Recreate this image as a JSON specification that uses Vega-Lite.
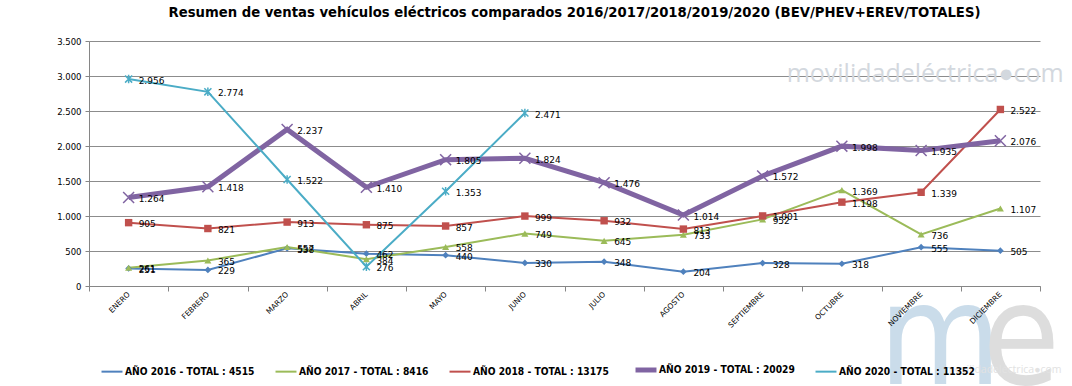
{
  "$schema": "https://vega.github.io/schema/vega-lite/v6.json",
  "autosize": "none",
  "width": 951,
  "height": 245,
  "padding": {"left": 89, "top": 41, "right": 32, "bottom": 100},
  "background": "white",
  "config": {
    "view": {"stroke": null},
    "locale": {"number": {"decimal": ",", "thousands": ".", "grouping": [3], "currency": ["", " €"]}},
    "font": "DejaVu Sans"
  },
  "title": {
    "text": "Resumen de ventas vehículos eléctricos comparados 2016/2017/2018/2019/2020  (BEV/PHEV+EREV/TOTALES)",
    "font": "DejaVu Sans Condensed",
    "fontSize": 14.7,
    "fontWeight": "bold",
    "color": "black",
    "anchor": "middle",
    "dx": 10,
    "offset": 17
  },
  "data": {"values": [
    {"mes": "ENERO", "serie": "AÑO 2016 - TOTAL : 4515", "v": 251},
    {"mes": "FEBRERO", "serie": "AÑO 2016 - TOTAL : 4515", "v": 229},
    {"mes": "MARZO", "serie": "AÑO 2016 - TOTAL : 4515", "v": 538},
    {"mes": "ABRIL", "serie": "AÑO 2016 - TOTAL : 4515", "v": 462},
    {"mes": "MAYO", "serie": "AÑO 2016 - TOTAL : 4515", "v": 440},
    {"mes": "JUNIO", "serie": "AÑO 2016 - TOTAL : 4515", "v": 330},
    {"mes": "JULIO", "serie": "AÑO 2016 - TOTAL : 4515", "v": 348},
    {"mes": "AGOSTO", "serie": "AÑO 2016 - TOTAL : 4515", "v": 204},
    {"mes": "SEPTIEMBRE", "serie": "AÑO 2016 - TOTAL : 4515", "v": 328},
    {"mes": "OCTUBRE", "serie": "AÑO 2016 - TOTAL : 4515", "v": 318},
    {"mes": "NOVIEMBRE", "serie": "AÑO 2016 - TOTAL : 4515", "v": 555},
    {"mes": "DICIEMBRE", "serie": "AÑO 2016 - TOTAL : 4515", "v": 505},
    {"mes": "ENERO", "serie": "AÑO 2017 - TOTAL : 8416", "v": 261},
    {"mes": "FEBRERO", "serie": "AÑO 2017 - TOTAL : 8416", "v": 365},
    {"mes": "MARZO", "serie": "AÑO 2017 - TOTAL : 8416", "v": 557},
    {"mes": "ABRIL", "serie": "AÑO 2017 - TOTAL : 8416", "v": 384},
    {"mes": "MAYO", "serie": "AÑO 2017 - TOTAL : 8416", "v": 558},
    {"mes": "JUNIO", "serie": "AÑO 2017 - TOTAL : 8416", "v": 749},
    {"mes": "JULIO", "serie": "AÑO 2017 - TOTAL : 8416", "v": 645},
    {"mes": "AGOSTO", "serie": "AÑO 2017 - TOTAL : 8416", "v": 733},
    {"mes": "SEPTIEMBRE", "serie": "AÑO 2017 - TOTAL : 8416", "v": 952},
    {"mes": "OCTUBRE", "serie": "AÑO 2017 - TOTAL : 8416", "v": 1369},
    {"mes": "NOVIEMBRE", "serie": "AÑO 2017 - TOTAL : 8416", "v": 736},
    {"mes": "DICIEMBRE", "serie": "AÑO 2017 - TOTAL : 8416", "v": 1107},
    {"mes": "ENERO", "serie": "AÑO 2018 - TOTAL : 13175", "v": 905},
    {"mes": "FEBRERO", "serie": "AÑO 2018 - TOTAL : 13175", "v": 821},
    {"mes": "MARZO", "serie": "AÑO 2018 - TOTAL : 13175", "v": 913},
    {"mes": "ABRIL", "serie": "AÑO 2018 - TOTAL : 13175", "v": 875},
    {"mes": "MAYO", "serie": "AÑO 2018 - TOTAL : 13175", "v": 857},
    {"mes": "JUNIO", "serie": "AÑO 2018 - TOTAL : 13175", "v": 999},
    {"mes": "JULIO", "serie": "AÑO 2018 - TOTAL : 13175", "v": 932},
    {"mes": "AGOSTO", "serie": "AÑO 2018 - TOTAL : 13175", "v": 813},
    {"mes": "SEPTIEMBRE", "serie": "AÑO 2018 - TOTAL : 13175", "v": 1001},
    {"mes": "OCTUBRE", "serie": "AÑO 2018 - TOTAL : 13175", "v": 1198},
    {"mes": "NOVIEMBRE", "serie": "AÑO 2018 - TOTAL : 13175", "v": 1339},
    {"mes": "DICIEMBRE", "serie": "AÑO 2018 - TOTAL : 13175", "v": 2522},
    {"mes": "ENERO", "serie": "AÑO 2019 - TOTAL : 20029", "v": 1264},
    {"mes": "FEBRERO", "serie": "AÑO 2019 - TOTAL : 20029", "v": 1418},
    {"mes": "MARZO", "serie": "AÑO 2019 - TOTAL : 20029", "v": 2237},
    {"mes": "ABRIL", "serie": "AÑO 2019 - TOTAL : 20029", "v": 1410},
    {"mes": "MAYO", "serie": "AÑO 2019 - TOTAL : 20029", "v": 1805},
    {"mes": "JUNIO", "serie": "AÑO 2019 - TOTAL : 20029", "v": 1824},
    {"mes": "JULIO", "serie": "AÑO 2019 - TOTAL : 20029", "v": 1476},
    {"mes": "AGOSTO", "serie": "AÑO 2019 - TOTAL : 20029", "v": 1014},
    {"mes": "SEPTIEMBRE", "serie": "AÑO 2019 - TOTAL : 20029", "v": 1572},
    {"mes": "OCTUBRE", "serie": "AÑO 2019 - TOTAL : 20029", "v": 1998},
    {"mes": "NOVIEMBRE", "serie": "AÑO 2019 - TOTAL : 20029", "v": 1935},
    {"mes": "DICIEMBRE", "serie": "AÑO 2019 - TOTAL : 20029", "v": 2076},
    {"mes": "ENERO", "serie": "AÑO 2020 - TOTAL : 11352", "v": 2956},
    {"mes": "FEBRERO", "serie": "AÑO 2020 - TOTAL : 11352", "v": 2774},
    {"mes": "MARZO", "serie": "AÑO 2020 - TOTAL : 11352", "v": 1522},
    {"mes": "ABRIL", "serie": "AÑO 2020 - TOTAL : 11352", "v": 276},
    {"mes": "MAYO", "serie": "AÑO 2020 - TOTAL : 11352", "v": 1353},
    {"mes": "JUNIO", "serie": "AÑO 2020 - TOTAL : 11352", "v": 2471}
  ]},
  "encoding": {
    "x": {
      "field": "mes", "type": "nominal", "title": null,
      "sort": ["ENERO","FEBRERO","MARZO","ABRIL","MAYO","JUNIO","JULIO","AGOSTO","SEPTIEMBRE","OCTUBRE","NOVIEMBRE","DICIEMBRE"],
      "scale": {"type": "band", "paddingInner": 0, "paddingOuter": 0},
      "axis": {
        "labelAngle": -45, "labelAlign": "right", "labelBaseline": "middle",
        "labelFontSize": 7.5, "labelColor": "black", "labelPadding": 2,
        "tickBand": "extent", "tickSize": 5, "tickColor": "#868686",
        "domainColor": "#868686", "grid": false, "zindex": 1
      }
    },
    "y": {
      "field": "v", "type": "quantitative", "title": null,
      "scale": {"domain": [0, 3500], "nice": false},
      "axis": {
        "values": [0,500,1000,1500,2000,2500,3000,3500],
        "format": ",d", "labelFontSize": 8.5, "labelColor": "black",
        "tickSize": 4, "tickColor": "#868686", "domainColor": "#868686",
        "gridColor": "#8c8c8c", "gridWidth": 1, "labelPadding": 4
      }
    }
  },
  "layer": [
    {
      "data": {"values": [{"mes": "NOVIEMBRE", "v": -1400, "t": "m"}]},
      "mark": {"type": "text", "font": "DejaVu Sans Condensed", "fontSize": 140, "color": "#cadcea", "align": "center", "baseline": "alphabetic", "dx": 19, "clip": false},
      "encoding": {"text": {"field": "t", "type": "nominal"}}
    },
    {
      "data": {"values": [{"mes": "DICIEMBRE", "v": -1400, "t": "e"}]},
      "mark": {"type": "text", "font": "DejaVu Sans Condensed", "fontSize": 140, "color": "#dddddd", "align": "center", "baseline": "alphabetic", "dx": 21, "clip": false},
      "encoding": {"text": {"field": "t", "type": "nominal"}}
    },
    {
      "data": {"values": [{"mes": "DICIEMBRE", "v": -1200, "t": "movilidadeléctrica●com"}]},
      "mark": {"type": "text", "font": "Open Sans", "fontSize": 10.5, "color": "#e2e2e2", "align": "center", "baseline": "middle", "dx": 3, "clip": false},
      "encoding": {"text": {"field": "t", "type": "nominal"}}
    },
    {
      "data": {"values": [{"mes": "NOVIEMBRE", "v": 3030, "t": "movilidadeléctrica●com"}]},
      "mark": {"type": "text", "font": "Open Sans", "fontSize": 25, "color": "#d3d8de", "align": "center", "baseline": "middle", "dx": 4, "clip": false},
      "encoding": {"text": {"field": "t", "type": "nominal"}}
    },
    {
      "mark": {"type": "line"},
      "encoding": {
        "color": {
          "field": "serie", "type": "nominal",
          "scale": {
            "domain": ["AÑO 2016 - TOTAL : 4515","AÑO 2017 - TOTAL : 8416","AÑO 2018 - TOTAL : 13175","AÑO 2019 - TOTAL : 20029","AÑO 2020 - TOTAL : 11352"],
            "range": ["#4F81BD","#9BBB59","#C0504D","#8064A2","#4BACC6"]
          },
          "legend": {
            "title": null, "orient": "none", "legendX": 10, "legendY": 316,
            "direction": "horizontal", "columns": 5, "columnPadding": 16,
            "symbolType": "stroke", "symbolSize": 440, "symbolStrokeWidth": 2.5,
            "labelFont": "DejaVu Sans Condensed",
            "labelFontSize": 10.2, "labelFontWeight": "bold", "labelColor": "black",
            "labelLimit": 300, "labelOffset": 0
          }
        },
        "strokeWidth": {
          "field": "serie", "type": "nominal",
          "scale": {"type": "ordinal",
            "domain": ["AÑO 2016 - TOTAL : 4515","AÑO 2017 - TOTAL : 8416","AÑO 2018 - TOTAL : 13175","AÑO 2019 - TOTAL : 20029","AÑO 2020 - TOTAL : 11352"],
            "range": [2, 2, 2, 5, 2]},
          "legend": null
        }
      }
    },
    {
      "transform": [{"filter": "datum.serie === 'AÑO 2016 - TOTAL : 4515'"}],
      "mark": {"type": "point", "shape": "diamond", "filled": true, "size": 45, "color": "#4F81BD", "opacity": 1}
    },
    {
      "transform": [{"filter": "datum.serie === 'AÑO 2017 - TOTAL : 8416'"}],
      "mark": {"type": "point", "shape": "triangle-up", "filled": true, "size": 50, "color": "#9BBB59", "opacity": 1}
    },
    {
      "transform": [{"filter": "datum.serie === 'AÑO 2018 - TOTAL : 13175'"}],
      "mark": {"type": "point", "shape": "square", "filled": true, "size": 55, "color": "#C0504D", "opacity": 1}
    },
    {
      "transform": [{"filter": "datum.serie === 'AÑO 2019 - TOTAL : 20029'"}],
      "mark": {"type": "point", "shape": "M-1,-1L1,1M-1,1L1,-1", "filled": false, "size": 120, "strokeWidth": 1.5, "color": "#8064A2", "opacity": 1}
    },
    {
      "transform": [{"filter": "datum.serie === 'AÑO 2020 - TOTAL : 11352'"}],
      "mark": {"type": "point", "shape": "M-1,-1L1,1M-1,1L1,-1M0,-1.2L0,1.2", "filled": false, "size": 50, "strokeWidth": 1.5, "color": "#4BACC6", "opacity": 1}
    },
    {
      "mark": {"type": "text", "align": "left", "baseline": "middle", "dx": 10, "dy": 1.5, "fontSize": 9, "color": "black"},
      "encoding": {
        "text": {"field": "v", "type": "quantitative", "format": ","}
      }
    }
  ]
}
